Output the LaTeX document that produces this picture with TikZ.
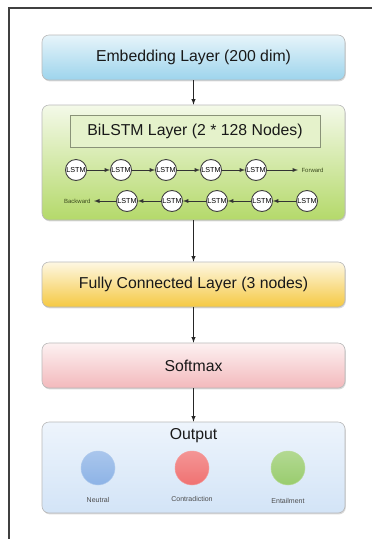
\documentclass[tikz,border=0pt]{standalone}
\usepackage{fontspec}
\setmainfont{Liberation Sans}
\usetikzlibrary{shadows}
\definecolor{embedC}{HTML}{9DD4EC}
\definecolor{lstmC}{HTML}{B4D96A}
\definecolor{fcC}{HTML}{F5C942}
\definecolor{softC}{HTML}{F3B9BC}
\definecolor{outC}{HTML}{D3E4F7}
\definecolor{labelC}{HTML}{3B4A1E}
\definecolor{neutralC}{HTML}{8DB3E6}
\definecolor{contraC}{HTML}{F07272}
\definecolor{entailC}{HTML}{99CC6E}
\tikzset{
  layer/.style={rounded corners=7pt, minimum width=303pt, draw=gray!55, line width=0.6pt,
    drop shadow={shadow xshift=0.8pt, shadow yshift=-1.4pt, opacity=0.3},
    font=\fontsize{15.8}{18}\selectfont, text=black!90},
  lstm/.style={circle, draw=black!75, line width=0.9pt, fill=white, inner sep=0pt,
    minimum size=21pt, font=\fontsize{7.2}{8}\selectfont},
  dirlabel/.style={font=\fontsize{6}{7}\selectfont, text=labelC},
  ball/.style={circle, minimum size=34pt, inner sep=0pt, draw=#1!70!white, line width=0.5pt,
    top color=#1!75!white, bottom color=#1},
  classlabel/.style={font=\fontsize{7}{8}\selectfont, text=black!70},
  link/.style={-latex, black!85, line width=0.9pt},
  rowlink/.style={-latex, black!80, line width=0.9pt},
}
\begin{document}
\begin{tikzpicture}[x=1pt,y=-1pt]
  \useasboundingbox (0,0) rectangle (372,539);
  \draw[black!75, line width=1.2pt] (9,539) -- (9,8) -- (372,8);
  % layers
  \node[layer, minimum height=45pt, top color=embedC!25, bottom color=embedC] (embed) at (193.5,57.5) {Embedding Layer (200 dim)};
  \node[layer, minimum height=115pt, top color=lstmC!15, bottom color=lstmC] (bilstm) at (193.5,162.5) {};
  \node[draw=labelC!60, line width=0.6pt, fill=lstmC!35, minimum width=250pt, minimum height=32pt,
    font=\fontsize{15.8}{18}\selectfont, text=black!90] (bititle) at (195,131) {BiLSTM Layer (2 * 128 Nodes)};
  \node[layer, minimum height=45pt, top color=fcC!15, bottom color=fcC] (fc) at (193.5,284.5) {Fully Connected Layer (3 nodes)};
  \node[layer, minimum height=45pt, top color=softC!20, bottom color=softC] (soft) at (193.5,365.5) {Softmax};
  \node[layer, minimum height=91pt, top color=outC!40, bottom color=outC] (out) at (193.5,467.5) {};
  \node[font=\fontsize{15.8}{18}\selectfont, text=black!90] (outtitle) at (193.5,436) {Output};
  % forward and backward rows
  \foreach \i in {1,...,5} {
    \node[lstm] (f\i) at ({31+45*\i},170) {LSTM};
    \node[lstm] (b\i) at ({82+45*\i},201) {LSTM};
  }
  \node[dirlabel, anchor=west] (fwd) at (298,170) {Forward};
  \node[dirlabel, anchor=east] (bwd) at (94,201) {Backward};
  \foreach \i [count=\j from 2] in {1,...,4} {
    \draw[rowlink] (f\i) -- (f\j);
    \draw[rowlink] (b\j) -- (b\i);
  }
  \draw[rowlink] (f5) -- (fwd);
  \draw[rowlink] (b1) -- (bwd);
  % classes
  \node[ball=neutralC] (neutral) at (98,468) {};
  \node[ball=contraC] (contra) at (192,468) {};
  \node[ball=entailC] (entail) at (288,468) {};
  \node[classlabel] (neutrallbl) at (98,500) {Neutral};
  \node[classlabel] (contralbl) at (192,499) {Contradiction};
  \node[classlabel] (entaillbl) at (288,501) {Entailment};
  % connectors
  \draw[link] (embed) -- (bilstm);
  \draw[link] (bilstm) -- (fc);
  \draw[link] (fc) -- (soft);
  \draw[link] (soft) -- (out);
\end{tikzpicture}
\end{document}
